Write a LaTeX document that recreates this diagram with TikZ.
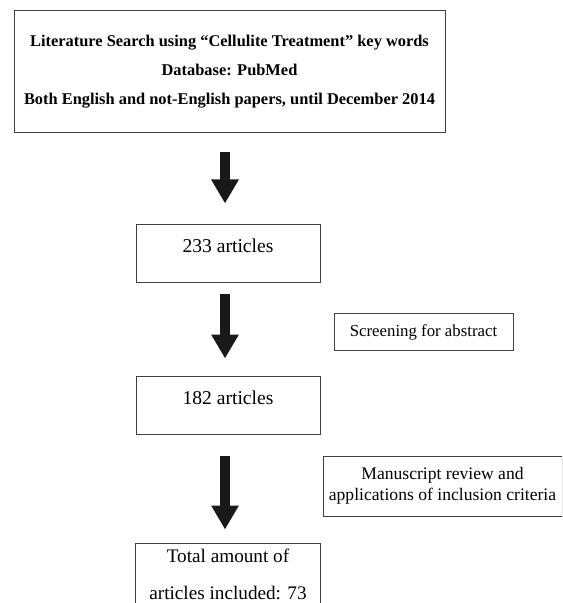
\documentclass[tikz,border=0pt]{standalone}
\usepackage{fontspec}
\setmainfont{Liberation Serif}
\usetikzlibrary{arrows.meta,positioning}
\tikzset{
  box/.style={
    draw=black!75,
    line width=0.5pt,
    align=center,
    inner sep=0pt
  },
  searchbox/.style={
    box,
    font=\bfseries\fontsize{8.2}{14.5}\selectfont,
    minimum width=215.5pt,
    minimum height=61pt
  },
  countbox/.style={
    box,
    font=\fontsize{9.8}{12}\selectfont,
    minimum width=92pt,
    text height=14pt,
    text depth=15pt
  },
  totalbox/.style={
    box,
    font=\fontsize{9.6}{18.5}\selectfont,
    minimum width=92.5pt,
    minimum height=31pt
  },
  notebox/.style={
    box,
    font=\fontsize{8.4}{10.5}\selectfont
  },
  fatarrow/.style={-{Triangle[length=12pt,width=13pt]}, line width=5pt, draw=black!90}
}

\begin{document}
\begin{tikzpicture}[x=1pt,y=1pt]
\useasboundingbox (0,0) rectangle (281,-301.5);
\clip (0,0) rectangle (281,-301.5);

\node[searchbox] (search) at (114.75,-36) {Literature Search using “Cellulite Treatment” key words\\Database: PubMed\\Both English and not-English papers, until December 2014};
\node[countbox, below=45.5pt of search, xshift=-0.75pt] (n233) {233 articles};
\node[countbox, below=46pt of n233] (n182) {182 articles};
\node[totalbox, below=54pt of n182] (total) {Total amount of\\articles included: 73};

% side notes
\node[notebox, minimum width=89.5pt, minimum height=18pt, below right=15pt and 6.5pt of n233.south east] (screen) {Screening for abstract};
\node[notebox, font=\fontsize{8.8}{10.5}\selectfont, minimum width=119.5pt, minimum height=30pt, below right=10.5pt and 1pt of n182.south east] (review) {Manuscript review and\\applications of inclusion criteria};

\draw[fatarrow, shorten <=9.5pt, shorten >=10.5pt] ([xshift=-1.5pt]n233.north |- search.south) -- ([xshift=-1.5pt]n233.north);
\draw[fatarrow, shorten <=5.5pt, shorten >=8.5pt] ([xshift=-1.5pt]n233.south) -- ([xshift=-1.5pt]n182.north);
\draw[fatarrow, shorten <=10.5pt, shorten >=6.5pt] ([xshift=-1.5pt]n182.south) -- ([xshift=-1.5pt]total.north);
\end{tikzpicture}
\end{document}
